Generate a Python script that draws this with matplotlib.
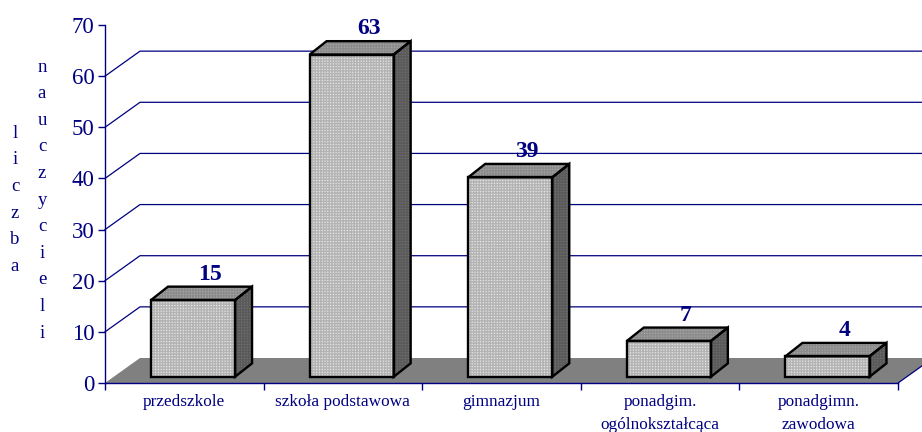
import matplotlib.pyplot as plt
from matplotlib.patches import Polygon

# dane
kategorie = ['przedszkole', 'szkoła podstawowa', 'gimnazjum',
             'ponadgim.\nogólnokształcąca', 'ponadgimn.\nzawodowa']
wartosci = [15, 63, 39, 7, 4]
yticks = [0, 10, 20, 30, 40, 50, 60, 70]

granat = '#000080'
plt.rcParams['font.family'] = ['Liberation Serif', 'DejaVu Serif']

fig = plt.figure(figsize=(9.22, 4.32), dpi=100)
ax = fig.add_axes([0, 0, 1, 1])
ax.set_xlim(-0.662, 5.151)
ax.set_ylim(-9.58, 74.89)

# glebokosc "3D" w jednostkach danych
DX, DY = 0.2207, 4.89

# podloga
ax.add_patch(Polygon([(0, 0), (5, 0), (5 + DX, DY), (DX, DY)],
                     closed=True, facecolor='#808080', edgecolor='none', zorder=1))
ax.plot([5, 5 + DX], [0, DY], color=granat, lw=0.9, zorder=2)

# linie siatki (sciana boczna + tylna)
for v in yticks[1:-1]:
    ax.plot([0, DX, 5 + DX], [v, v + DY, v + DY], color=granat, lw=0.9, zorder=1)

# slupki
w = 0.53
d0, d1 = 0.25, 0.76
for i, v in enumerate(wartosci):
    x0 = i + (1 - w) / 2 + d0 * DX
    yb = d0 * DY
    ddx = (d1 - d0) * DX * 0.95
    ddy = (d1 - d0) * DY * 1.05
    front = [(x0, yb), (x0 + w, yb), (x0 + w, yb + v), (x0, yb + v)]
    top = [(x0, yb + v), (x0 + w, yb + v), (x0 + w + ddx, yb + v + ddy), (x0 + ddx, yb + v + ddy)]
    side = [(x0 + w, yb), (x0 + w + ddx, yb + ddy), (x0 + w + ddx, yb + v + ddy), (x0 + w, yb + v)]
    ax.add_patch(Polygon(front, facecolor='#e4e4e4', edgecolor='#b4b4b4', hatch='++++++',
                         lw=0, zorder=3))
    ax.add_patch(Polygon(top, facecolor='#a6a6a6', edgecolor='#8c8c8c', hatch='++++++',
                         lw=0, zorder=3))
    ax.add_patch(Polygon(side, facecolor='#707070', edgecolor='#5a5a5a', hatch='++++++',
                         lw=0, zorder=3))
    for p in (front, top, side):
        ax.add_patch(Polygon(p, facecolor='none', edgecolor='black', lw=1.7,
                             joinstyle='miter', zorder=4))
    ax.text(x0 + ddx + w / 2, yb + v + ddy + 0.4, str(v), ha='center', va='bottom',
            fontsize=17, fontweight='bold', color=granat, zorder=5)

# osie
for s in ['top', 'right']:
    ax.spines[s].set_visible(False)
ax.spines['left'].set_position(('data', 0))
ax.spines['bottom'].set_position(('data', 0))
ax.spines['left'].set_bounds(0, 70)
ax.spines['bottom'].set_bounds(0, 5)
for s in ['left', 'bottom']:
    ax.spines[s].set_color(granat)
    ax.spines[s].set_linewidth(1.0)
    ax.spines[s].set_zorder(6)

ax.set_yticks(yticks)
ax.set_yticklabels([str(t) for t in yticks])
ax.tick_params(axis='y', direction='out', length=5, width=1.0, colors=granat,
               labelsize=16.5, pad=2.5)

ax.set_xticks(range(6))
ax.set_xticklabels([])
ax.set_xticks([i + 0.5 for i in range(5)], minor=True)
ax.set_xticklabels(kategorie, minor=True, fontsize=12.4, color=granat, linespacing=1.55)
ax.tick_params(axis='x', which='major', direction='out', length=5, width=1.0, colors=granat)
ax.tick_params(axis='x', which='minor', length=0, pad=8)

# opis osi Y - litery pionowo
for j, ch in enumerate('liczba'):
    fig.text(15 / 922, 1 - (133 + j * 26.7) / 432, ch, ha='center', va='center',
             fontsize=13.5, color=granat)
for j, ch in enumerate('nauczycieli'):
    fig.text(42 / 922, 1 - (67 + j * 26.6) / 432, ch, ha='center', va='center',
             fontsize=13.5, color=granat)

fig.savefig('out.png', dpi=100)
